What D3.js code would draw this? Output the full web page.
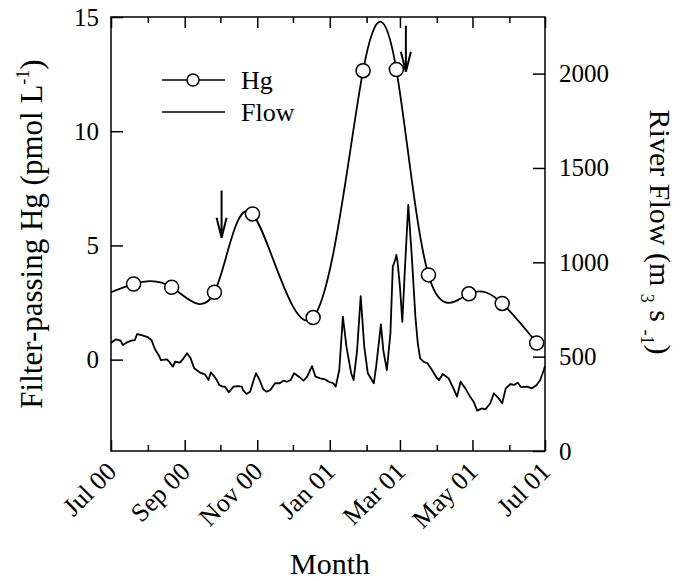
<!DOCTYPE html>
<html><head><meta charset="utf-8">
<script src="https://cdn.jsdelivr.net/npm/d3@7"></script>
<style>body{margin:0;background:#fff} text{font-family:"Liberation Serif","Times New Roman",serif;fill:#000}</style>
</head><body><svg id="c" width="690" height="581"></svg>
<script>
// ---- data ----
const startDate = new Date(2000, 6, 1);
const endDate = new Date(2001, 6, 1);
// Hg samples: day offset from 1 Jul 2000, filter-passing Hg (pmol/L)
const hgDay   = [19, 51, 87, 119, 170, 212, 240, 267, 301, 329, 358];
const hgValue = [3.31, 3.17, 2.95, 6.38, 1.84, 12.65, 12.70, 3.71, 2.88, 2.46, 0.73];
const hgCurveStartValue = 2.95; // fitted curve value at 1 Jul 2000
// River flow: day offset from 1 Jul 2000, flow (m3/s)
const flowDay = [
  0,4,8,10,13,17,20,22,25,31,
  34,37,40,42,47,49,52,54,58,61,
  64,67,70,75,79,82,84,87,89,91,
  94,96,99,103,107,110,111,114,117,120,
  122,125,128,131,134,138,142,145,148,151,
  154,158,162,165,169,172,176,180,183,187,
  189,192,195,198,202,204,207,210,213,216,
  221,223,227,229,232,235,237,239,240,241,
  243,245,247,250,253,256,258,260,263,266,
  270,274,276,279,284,288,291,294,298,302,
  305,308,312,315,319,322,326,329,332,336,
  339,342,345,350,354,358,361,364,365];
const flowValue = [
  572,592,585,562,574,585,588,620,615,603,
  588,539,509,482,486,473,447,473,468,491,
  518,491,438,415,406,376,417,394,376,350,
  341,341,311,341,344,341,323,302,314,376,
  412,376,327,314,323,359,359,373,367,376,
  412,394,373,394,450,394,385,380,367,359,
  341,429,712,553,412,376,535,821,553,412,
  359,447,671,535,429,624,977,1012,1039,1003,
  871,685,942,1304,1030,712,571,491,472,466,
  429,387,376,408,385,332,288,367,332,288,
  261,214,226,221,253,306,279,253,332,355,
  350,362,338,341,332,350,376,429,450];
// arrows (day offset, Hg-axis top and tip)
const arrowDay = [93, 248];
const arrowTop = [7.4, 14.62];
const arrowTip = [5.34, 12.6];
const hgTicks = [0, 5, 10, 15];
const flowTicks = [0, 500, 1000, 1500, 2000];
const legendLabels = ["Hg", "Flow"];

// ---- layout ----
const FONT = '"Liberation Serif","Times New Roman",serif';
const svg = d3.select("#c");
const L = 111, R = 545, T = 17, B = 451;
const day = d => d3.timeDay.offset(startDate, d);
const x = d3.scaleTime().domain([startDate, endDate]).range([L, R]);
const yHg = d3.scaleLinear().domain([-4, 15]).range([B, T]);
const yFlow = d3.scaleLinear().domain([0, 2300]).range([B, T]);

// frame
svg.append("rect").attr("x", L).attr("y", T).attr("width", R - L).attr("height", B - T)
  .attr("fill", "none").attr("stroke", "#000").attr("stroke-width", 1.5);

const months = d3.timeMonth.range(startDate, d3.timeDay.offset(endDate, 1));
const major = months.filter((d, i) => i % 2 === 0);
const minor = months.filter((d, i) => i % 2 === 1);

function styleAxis(g){ g.select(".domain").remove(); g.attr("font-family", FONT); g.selectAll("line").attr("stroke","#000").attr("stroke-width",1.5); }

// bottom ticks
svg.append("g").attr("transform", `translate(0,${B})`)
  .call(d3.axisBottom(x).tickValues(major).tickSizeInner(-11).tickSizeOuter(0).tickFormat(""))
  .call(styleAxis);
svg.append("g").attr("transform", `translate(0,${B})`)
  .call(d3.axisBottom(x).tickValues(minor).tickSizeInner(-6).tickSizeOuter(0).tickFormat(""))
  .call(styleAxis);
// top ticks
svg.append("g").attr("transform", `translate(0,${T})`)
  .call(d3.axisTop(x).tickValues(major).tickSizeInner(-11).tickSizeOuter(0).tickFormat(""))
  .call(styleAxis);
svg.append("g").attr("transform", `translate(0,${T})`)
  .call(d3.axisTop(x).tickValues(minor).tickSizeInner(-6).tickSizeOuter(0).tickFormat(""))
  .call(styleAxis);
svg.selectAll("g.tick text").remove();

// x tick labels rotated
const fmt = d3.timeFormat("%b %y");
svg.append("g").selectAll("text").data(major).join("text")
  .attr("text-anchor", "end")
  .attr("font-family", FONT)
  .attr("font-size", 26)
  .attr("transform", d => `translate(${x(d) + 7},${B + 22}) rotate(-45)`)
  .text(d => fmt(d));

// left axis
svg.append("g").attr("transform", `translate(${L},0)`)
  .call(d3.axisLeft(yHg).tickValues(hgTicks).tickSizeInner(-12).tickSizeOuter(0).tickPadding(12).tickFormat(d3.format("d")))
  .call(styleAxis)
  .selectAll("text").attr("font-size", 25).attr("font-family", FONT);
// right axis
svg.append("g").attr("transform", `translate(${R},0)`)
  .call(d3.axisRight(yFlow).tickValues(flowTicks).tickSizeInner(-12).tickSizeOuter(0).tickPadding(14).tickFormat(d3.format("d")))
  .call(styleAxis)
  .selectAll("text").attr("font-size", 25).attr("font-family", FONT);

// flow line
const flowData = flowDay.map((d, i) => ({date: day(d), v: flowValue[i]}));
svg.append("path").datum(flowData)
  .attr("fill", "none").attr("stroke", "#000").attr("stroke-width", 1.8).attr("stroke-linejoin", "round")
  .attr("d", d3.line().x(d => x(d.date)).y(d => yFlow(d.v)));

// Hg curve
const hgData = hgDay.map((d, i) => ({date: day(d), v: hgValue[i]}));
const hgCurve = [{date: startDate, v: hgCurveStartValue}].concat(hgData);
svg.append("path").datum(hgCurve)
  .attr("fill", "none").attr("stroke", "#000").attr("stroke-width", 1.8)
  .attr("d", d3.line().curve(d3.curveNatural).x(d => x(d.date)).y(d => yHg(d.v)));
svg.append("g").selectAll("circle").data(hgData).join("circle")
  .attr("cx", d => x(d.date)).attr("cy", d => yHg(d.v)).attr("r", 7)
  .attr("fill", "#fff").attr("stroke", "#000").attr("stroke-width", 1.5);

// arrows
arrowDay.forEach((d, i) => {
  const ax = x(day(d)), y0 = yHg(arrowTop[i]), y1 = yHg(arrowTip[i]);
  svg.append("path").attr("fill", "none").attr("stroke", "#000").attr("stroke-width", 2)
    .attr("d", `M${ax},${y0}L${ax},${y1}M${ax - 5},${y1 - 20}L${ax},${y1}L${ax + 5},${y1 - 20}`);
});

// legend
const lg = svg.append("g");
lg.append("line").attr("x1", 162).attr("x2", 225).attr("y1", 80).attr("y2", 80).attr("stroke", "#000").attr("stroke-width", 1.5);
lg.append("circle").attr("cx", 193).attr("cy", 80).attr("r", 6).attr("fill", "#fff").attr("stroke", "#000").attr("stroke-width", 1.5);
lg.append("line").attr("x1", 162).attr("x2", 225).attr("y1", 112).attr("y2", 112).attr("stroke", "#000").attr("stroke-width", 1.5);
lg.selectAll("text").data(legendLabels).join("text")
  .attr("font-family", FONT)
  .attr("x", 241).attr("y", (d, i) => 89 + i * 32).attr("font-size", 26).text(d => d);

// axis titles
const lt = svg.append("text").attr("font-size", 31).attr("text-anchor", "middle").attr("font-family", FONT)
  .attr("transform", "translate(42,234) rotate(-90)");
lt.append("tspan").text("Filter-passing Hg (pmol L");
lt.append("tspan").attr("font-size", 18).attr("dy", -13).text("-1");
lt.append("tspan").attr("dy", 13).text(")");

const rt = svg.append("text").attr("font-size", 30).attr("text-anchor", "middle").attr("font-family", FONT)
  .attr("transform", "translate(650,232) rotate(90)");
rt.append("tspan").text("River Flow (m ");
rt.append("tspan").attr("font-size", 18).attr("dy", 9).text("3");
rt.append("tspan").attr("dy", -9).text(" s ");
rt.append("tspan").attr("font-size", 18).attr("dy", 9).text("-1");
rt.append("tspan").attr("dy", -9).text(")");

svg.append("text").attr("font-size", 30).attr("text-anchor", "middle").attr("font-family", FONT)
  .attr("x", (L + R) / 2 + 2).attr("y", 574).text("Month");
</script></body></html>
